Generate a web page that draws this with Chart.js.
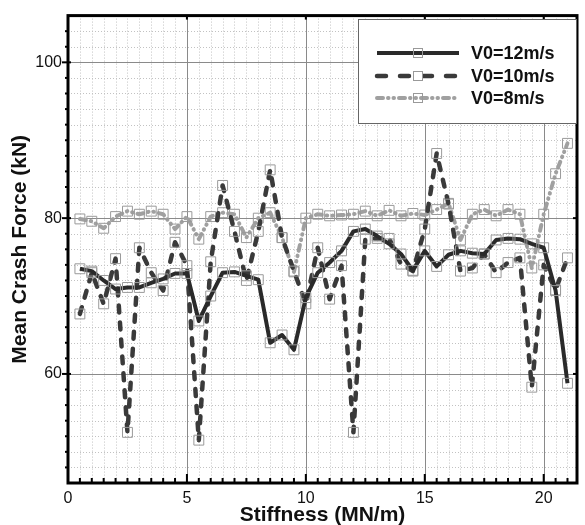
<!DOCTYPE html>
<html><head><meta charset="utf-8">
<script src="https://cdn.jsdelivr.net/npm/chart.js@4.4.0/dist/chart.umd.min.js"></script>
<style>html,body{margin:0;padding:0;background:#fff}#wrap{width:585px;height:525px}</style>
</head><body><div id="wrap"><canvas id="c" width="585" height="525"></canvas></div>
<script>
const stiffness = [0.5,1,1.5,2,2.5,3,3.5,4,4.5,5,5.5,6,6.5,7,7.5,8,8.5,9,9.5,10,10.5,11,11.5,12,12.5,13,13.5,14,14.5,15,15.5,16,16.5,17,17.5,18,18.5,19,19.5,20,20.5,21];
const force12 = [73.5,73.2,72.0,70.9,71.1,71.1,71.7,72.2,72.9,72.9,66.8,70.0,73.0,73.1,72.6,72.1,64.0,65.0,63.1,69.8,73.0,74.3,75.8,78.3,78.6,77.7,76.7,75.4,73.3,75.8,73.8,75.3,75.8,75.5,75.4,77.2,77.4,77.3,76.7,76.2,70.7,58.8];
const force10 = [67.7,73.0,69.0,74.8,52.5,76.2,73.0,70.7,76.9,73.9,51.5,74.4,84.2,78.3,72.0,78.3,86.2,77.5,73.2,69.0,76.2,69.6,73.9,52.5,77.3,77.4,77.4,74.1,73.2,78.6,88.3,81.8,73.2,73.6,75.4,73.0,74.3,74.9,58.3,74.0,70.8,74.9];
const force8 = [79.9,79.6,78.7,80.2,80.9,80.5,80.9,80.5,78.6,80.2,77.3,80.2,80.7,80.5,77.5,80.0,80.7,77.5,73.1,80.0,80.5,80.3,80.4,80.5,80.9,80.3,81.0,80.3,80.6,80.4,81.1,81.9,77.2,80.5,81.1,80.3,81.1,80.5,73.6,80.5,85.7,89.6];
const seriesLabels = ['V0=12m/s','V0=10m/s','V0=8m/s'];
const xTickValues = [0,5,10,15,20];
const yTickValues = [60,80,100];
const xTitle = 'Stiffness (MN/m)';
const yTitle = 'Mean Crash Force (kN)';

const FONT = "'Liberation Sans', Arial, sans-serif";
const toPts = arr => stiffness.map((s,i)=>({x:s,y:arr[i]}));
const dashes = [[], [7,10], [6,5,0.5,5,0.5,5]];

const gridPlugin = {
  id:'gridLines',
  beforeDatasetsDraw(chart){
    const {ctx, chartArea:a, scales:{x,y}} = chart;
    ctx.save();
    ctx.lineWidth = 1;
    ctx.strokeStyle = '#c2c2c2';
    ctx.setLineDash([1,2]);
    for (let v = 0.5; v < x.max; v += 0.5) {
      if (v % 5 === 0) continue;
      const px = Math.round(x.getPixelForValue(v)) + 0.5;
      ctx.beginPath(); ctx.moveTo(px, a.top); ctx.lineTo(px, a.bottom); ctx.stroke();
    }
    for (let v = y.min + 2; v < y.max; v += 2) {
      if (v % 20 === 0) continue;
      const py = Math.round(y.getPixelForValue(v)) + 0.5;
      ctx.beginPath(); ctx.moveTo(a.left, py); ctx.lineTo(a.right, py); ctx.stroke();
    }
    ctx.setLineDash([]);
    ctx.strokeStyle = '#8a8a8a';
    xTickValues.forEach(v => {
      if (v === x.min) return;
      const px = Math.round(x.getPixelForValue(v)) + 0.5;
      ctx.beginPath(); ctx.moveTo(px, a.top); ctx.lineTo(px, a.bottom); ctx.stroke();
    });
    yTickValues.forEach(v => {
      const py = Math.round(y.getPixelForValue(v)) + 0.5;
      ctx.beginPath(); ctx.moveTo(a.left, py); ctx.lineTo(a.right, py); ctx.stroke();
    });
    ctx.restore();
  }
};

const framePlugin = {
  id:'frame',
  afterDatasetsDraw(chart){
    const {ctx, chartArea:a, scales:{x,y}} = chart;
    ctx.save();
    ctx.strokeStyle = '#000';
    ctx.lineWidth = 2;
    for (let v = 0.5; v < x.max; v += 0.5) {
      const px = x.getPixelForValue(v);
      const len = (v % 5 === 0) ? 9 : 5;
      ctx.beginPath(); ctx.moveTo(px, a.bottom); ctx.lineTo(px, a.bottom - len); ctx.stroke();
    }
    xTickValues.forEach(v => {
      const px = x.getPixelForValue(v);
      ctx.beginPath(); ctx.moveTo(px, a.top); ctx.lineTo(px, a.top + 4); ctx.stroke();
    });
    for (let v = y.min + 2; v < y.max; v += 2) {
      const py = y.getPixelForValue(v);
      const major = v % 20 === 0;
      ctx.beginPath(); ctx.moveTo(a.left - (major ? 6 : 3), py); ctx.lineTo(a.left + (major ? 3 : 0), py); ctx.stroke();
    }
    yTickValues.forEach(v => {
      const py = y.getPixelForValue(v);
      ctx.beginPath(); ctx.moveTo(a.right, py); ctx.lineTo(a.right - 4, py); ctx.stroke();
    });
    ctx.lineWidth = 3;
    ctx.strokeRect(a.left, a.top, a.right - a.left, a.bottom - a.top);
    ctx.restore();
  }
};

const legendPlugin = {
  id:'legendBox',
  afterDraw(chart){
    const ctx = chart.ctx;
    ctx.save();
    const bx = 358, by = 19, bw = 218, bh = 104;
    ctx.fillStyle = '#fff';
    ctx.fillRect(bx, by, bw, bh);
    ctx.strokeStyle = '#666'; ctx.lineWidth = 1;
    ctx.strokeRect(bx + 0.5, by + 0.5, bw, bh);
    const rows = [53, 76, 98];
    chart.data.datasets.forEach((ds, i) => {
      const yy = rows[i];
      ctx.strokeStyle = ds.borderColor;
      ctx.lineWidth = ds.borderWidth;
      ctx.lineCap = i === 0 ? 'butt' : 'round';
      ctx.setLineDash(i === 1 ? [9,14] : ds.borderDash || []);
      ctx.beginPath(); ctx.moveTo(377, yy); ctx.lineTo(459, yy); ctx.stroke();
      ctx.setLineDash([]);
      ctx.lineWidth = 1;
      ctx.strokeStyle = '#999';
      ctx.fillStyle = i === 1 ? '#fff' : 'rgba(255,255,255,0)';
      ctx.fillRect(413, yy - 5, 10, 10);
      ctx.strokeRect(413.5, yy - 4.5, 9, 9);
      ctx.fillStyle = '#111';
      ctx.font = 'bold 18px ' + FONT;
      ctx.textBaseline = 'middle';
      ctx.textAlign = 'left';
      ctx.fillText(ds.label, 471, yy + 1);
    });
    ctx.restore();
  }
};

const colors = ['#2a2a2a', '#3a3a3a', '#a0a0a0'];
const widths = [4, 4.5, 4];
const series = [force12, force10, force8];
const datasets = series.map((arr, i) => ({
  label: seriesLabels[i],
  data: toPts(arr),
  borderColor: colors[i],
  borderWidth: widths[i],
  borderDash: dashes[i],
  borderCapStyle: i === 0 ? 'butt' : 'round',
  borderJoinStyle: 'round',
  tension: 0,
  pointStyle: 'rect',
  pointRadius: 7,
  pointBorderWidth: 1,
  pointBorderColor: '#9a9a9a',
  pointBackgroundColor: 'rgba(255,255,255,0)',
  fill: false
}));

new Chart(document.getElementById('c'), {
  type: 'line',
  data: { datasets },
  options: {
    responsive: false,
    animation: false,
    devicePixelRatio: 1,
    layout: { padding: { top: 14, right: 6, left: 0, bottom: 0 } },
    plugins: { legend: { display: false }, tooltip: { enabled: false } },
    scales: {
      x: {
        type: 'linear', min: 0, max: 21.4,
        afterBuildTicks: s => { s.ticks = xTickValues.map(v => ({ value: v })); },
        afterFit: s => { s.height = 42; },
        grid: { display: false, drawTicks: false },
        border: { display: false },
        ticks: { font: { family: FONT, size: 16 }, color: '#111', padding: 6, maxRotation: 0, autoSkip: false },
        title: { display: true, text: xTitle, color: '#111', font: { family: FONT, size: 21, weight: 'bold' }, padding: { top: 0, bottom: -3 } }
      },
      y: {
        type: 'linear', min: 46, max: 106,
        afterBuildTicks: s => { s.ticks = yTickValues.map(v => ({ value: v })); },
        afterFit: s => { s.width = 68; },
        grid: { display: false, drawTicks: false },
        border: { display: false },
        ticks: { font: { family: FONT, size: 16 }, color: '#111', padding: 6, autoSkip: false },
        title: { display: true, text: yTitle, color: '#111', font: { family: FONT, size: 21, weight: 'bold' }, padding: { top: 8, bottom: 0 } }
      }
    }
  },
  plugins: [gridPlugin, framePlugin, legendPlugin]
});
</script></body></html>
